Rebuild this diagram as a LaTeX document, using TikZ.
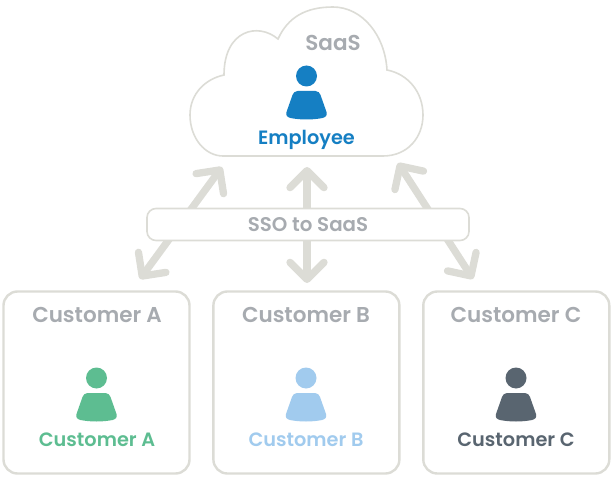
\documentclass[tikz,border=0pt]{standalone}
\usepackage{fontspec}
\usepackage{xcolor}
\usetikzlibrary{positioning,arrows.meta}
\setmainfont{Poppins}[BoldFont=* SemiBold]
\definecolor{saasLine}{RGB}{220, 220, 214}
\definecolor{saasGray}{RGB}{167, 171, 176}
\definecolor{saasBlue}{RGB}{21, 127, 195}
\definecolor{custGreen}{RGB}{93, 189, 145}
\definecolor{custSky}{RGB}{161, 203, 238}
\definecolor{custSlate}{RGB}{89, 101, 112}
\tikzset{
  custbox/.style={draw=saasLine, line width=2.4pt, fill=white, rounded corners=14pt, minimum width=186pt, minimum height=182pt},
  title/.style={text=saasGray, font=\bfseries\fontsize{21.5}{24}\selectfont, inner sep=0pt},
  who/.style={font=\bfseries\fontsize{19.3}{23}\selectfont, inner sep=0pt},
  link/.style={draw=saasLine, line width=7.3pt, {Straight Barb[length=17pt, width=34pt, round]}-{Straight Barb[length=17pt, width=34pt, round]}},
  pics/person/.style={code={
    \fill[#1] (0,0) circle (10.5);
    \fill[#1] (-9,15) -- (9,15) .. controls (12,15) and (13,17) .. (14,19) -- (20,36)
      .. controls (21,40) and (19,41) .. (16,42) .. controls (6,44) and (-6,44) .. (-16,42)
      .. controls (-19,41) and (-21,40) .. (-20,36) -- (-14,19) .. controls (-13,17) and (-12,15) .. (-9,15) -- cycle;
  }}
}
\begin{document}
\begin{tikzpicture}[x=1pt, y=-1pt]
  \useasboundingbox (0,0) rectangle (616,484);
  % cloud
  \draw[saasLine, line width=1.6pt, fill=white] (223,156) -- (383,156)
    .. controls (408,156) and (423,137) .. (423,115) .. controls (423,92) and (408,74) .. (387,70)
    .. controls (385,35) and (362,7) .. (333,7) .. controls (306,7) and (288,17) .. (278,39)
    .. controls (258,22) and (224,30) .. (224,75) .. controls (205,79) and (190,94) .. (190,115)
    .. controls (190,138) and (205,156) .. (223,156) -- cycle;
  \node[title] (saas) at (333,43) {SaaS};
  \pic at (306.5,76) {person=saasBlue};
  \node[who, text=saasBlue] (employee) at (306.5,139.5) {Employee};
  % customers
  \node[custbox] (custA) at (96.5,382.5) {};
  \node[custbox, right=21.5pt of custA] (custB) {};
  \node[custbox, right=21.5pt of custB] (custC) {};
  \node[title] (titleA) at (97,315) {Customer A};
  \node[title] (titleB) at (306,315) {Customer B};
  \node[title] (titleC) at (516,315) {Customer C};
  \pic at (96.5,378) {person=custGreen};
  \pic at (306,378) {person=custSky};
  \pic at (516,378) {person=custSlate};
  \node[who, text=custGreen] (whoA) at (97,439.5) {Customer A};
  \node[who, text=custSky] (whoB) at (306,439.5) {Customer B};
  \node[who, text=custSlate] (whoC) at (516,439.5) {Customer C};
  % arrow ends
  \coordinate (topA) at (222,167);
  \coordinate (topB) at (307,167);
  \coordinate (topC) at (398,163);
  \coordinate (lowA) at (140,279);
  \coordinate (lowB) at (307,283);
  \coordinate (lowC) at (473,279);
  \draw[link] (topA) -- (lowA);
  \draw[link] (topB) -- (lowB);
  \draw[link] (topC) -- (lowC);
  % band across the arrows
  \node[draw=saasLine, line width=1.6pt, fill=white, rounded corners=9pt, minimum width=322pt, minimum height=32pt,
    text=saasGray, font=\bfseries\fontsize{19.8}{23}\selectfont] (sso) at (308,224.5) {SSO to SaaS};
\end{tikzpicture}
\end{document}
